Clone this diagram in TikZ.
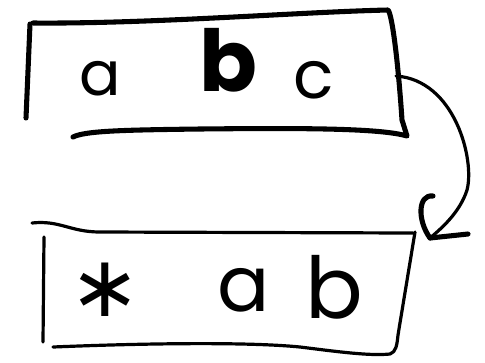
\documentclass[tikz,border=0pt]{standalone}
\usepackage{fontspec}
\setmainfont{Poppins}
\newfontfamily\symfont{DejaVu Sans}
\begin{document}
\begin{tikzpicture}[x=0.75pt,y=-0.75pt,
  thick stroke/.style={line width=3.8pt,line cap=round,line join=round},
  thin stroke/.style={line width=2.4pt,line cap=round,line join=round},
  letter/.style={inner sep=0pt,font=\fontsize{46}{46}\selectfont},
  bigletter/.style={inner sep=0pt,font=\fontsize{58}{58}\selectfont},
  boldletter/.style={inner sep=0pt,font=\fontsize{64}{64}\selectfont\bfseries}]
\useasboundingbox (0,0) rectangle (485,362);
% top box
\coordinate (tl) at (30,24);
\coordinate (tlb) at (26,118);
\coordinate (tr) at (388,10);
\coordinate (br) at (407,136);
\coordinate (bl) at (73,137);
\draw[thick stroke] (tl) -- (tlb);
\draw[thick stroke] (33,23) .. controls (150,24) and (300,12) .. (tr)
  .. controls (392,14) and (398,60) .. (402,120) -- (br)
  .. controls (380,128) and (300,128) .. (200,129)
  .. controls (120,130) and (85,131) .. (bl);
\node[letter] (ta) at (100,79) {a};
\node[boldletter] (tb) at (228,60) {b};
\node[letter,font=\fontsize{50}{50}\selectfont] (tc) at (314,80) {c};
% bottom box
\draw[thin stroke] (32,223) .. controls (60,220) and (70,232) .. (100,232) -- (413,233);
\draw[thin stroke] (44,237) -- (43,342);
\draw[thin stroke] (53,347) .. controls (150,343) and (250,342) .. (300,347)
  .. controls (340,352) and (370,356) .. (390,354)
  .. controls (396,352) and (397,345) .. (398,335) -- (415,232);
\node[inner sep=0pt,font=\symfont\fontsize{64}{64}\selectfont] (bs) at (105,290) {∗};
\node[bigletter] (ba) at (244,290) {a};
\node[bigletter,font=\fontsize{64}{64}\selectfont] (bb) at (334,287) {b};
% connector
\coordinate (start) at (396,76);
\coordinate (tip) at (430,238);
\draw[thin stroke] (start) .. controls (455,80) and (475,160) .. (467,190)
  .. controls (460,212) and (442,228) .. (tip);
\draw[thick stroke] (tip) -- (468,234);
\draw[thick stroke] (tip) .. controls (417,220) and (418,194) .. (433,196);
\end{tikzpicture}
\end{document}
